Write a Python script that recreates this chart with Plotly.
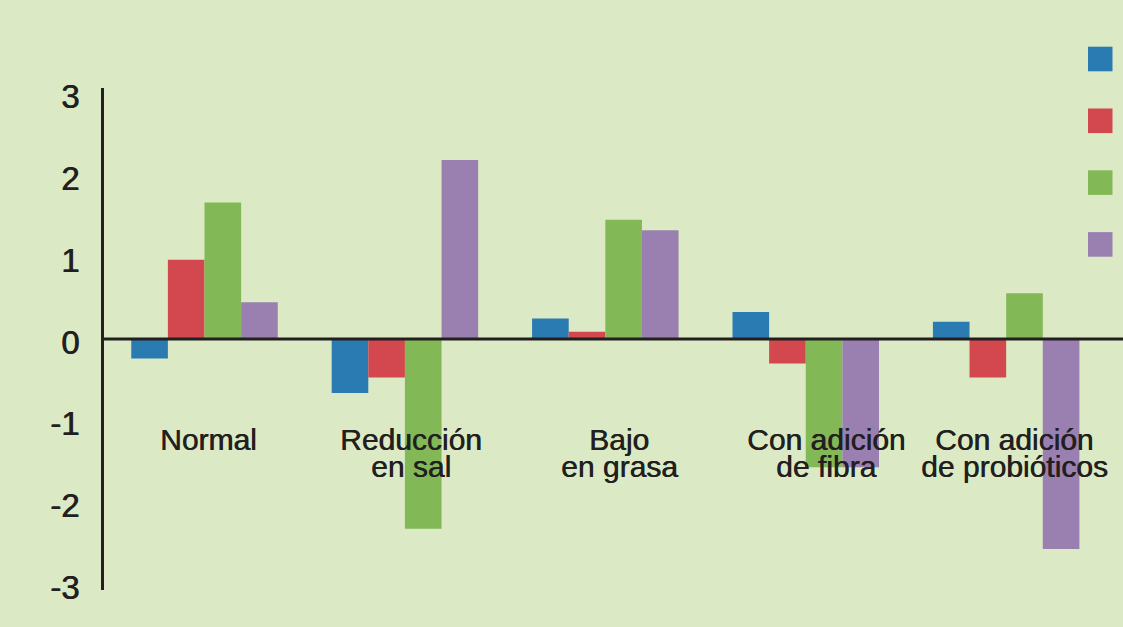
import plotly.graph_objects as go

# Categories and series values
categories = ["Normal", "Reducción en sal", "Bajo en grasa", "Con adición de fibra", "Con adición de probióticos"]
serie_1 = [-0.24, -0.66, 0.25, 0.33, 0.21]
serie_2 = [0.97, -0.47, 0.09, -0.30, -0.47]
serie_3 = [1.67, -2.32, 1.46, -1.57, 0.56]
serie_4 = [0.45, 2.19, 1.33, -1.57, -2.57]
series_names = ["Serie 1", "Serie 2", "Serie 3", "Serie 4"]
tick_values = [-3, -2, -1, 0, 1, 2, 3]

# Category labels, split over two lines
label_lines = [
    ("Normal", ""),
    ("Reducción", "en sal"),
    ("Bajo", "en grasa"),
    ("Con adición", "de fibra"),
    ("Con adición", "de probióticos"),
]

# Styling
colors = ["#2a7bb2", "#d3474f", "#82b856", "#9a80b1"]
bg = "#dbeac4"
ink = "#231f20"
font_family = "Liberation Sans, Arial, sans-serif"
heavy = "0.6px 0 0 #231f20"

W, H = 1123, 627
ML, MR, MT, MB = 104, 0, 88, 37
plot_w = W - ML - MR
plot_h = H - MT - MB

label_shift = [0.02, 0.03, 0.07, 0.10, 0.04]


def py_to_paper(py):
    return (H - MB - py) / plot_h


def px_to_paper(px):
    return (px - ML) / plot_w


fig = go.Figure()
for name, vals, col in zip(series_names, [serie_1, serie_2, serie_3, serie_4], colors):
    fig.add_trace(go.Bar(
        x=categories, y=vals, name=name,
        marker=dict(color=col, line=dict(width=0)),
        showlegend=False,
    ))

shapes = []
# zero line above the bars
shapes.append(dict(type="line", xref="paper", yref="y", x0=0, x1=1, y0=0, y1=0,
                   line=dict(color=ink, width=3), layer="above"))
# legend swatches
for i, col in enumerate(colors):
    top = 46.7 + i * 61.8
    shapes.append(dict(type="rect", xref="paper", yref="paper",
                       x0=px_to_paper(1088), x1=px_to_paper(1112.5),
                       y0=py_to_paper(top + 24.6), y1=py_to_paper(top),
                       fillcolor=col, line=dict(width=0), layer="above"))

label_font = dict(size=30, color=ink, family=font_family, shadow=heavy)
annotations = []
for i, (l1, l2) in enumerate(label_lines):
    xi = i + label_shift[i]
    annotations.append(dict(x=xi, xref="x", y=py_to_paper(439), yref="paper",
                            text=l1, showarrow=False, xanchor="center", yanchor="middle",
                            font=label_font))
    if l2:
        annotations.append(dict(x=xi, xref="x", y=py_to_paper(466.5), yref="paper",
                                text=l2, showarrow=False, xanchor="center", yanchor="middle",
                                font=label_font))

fig.update_layout(
    width=W, height=H,
    margin=dict(l=ML, r=MR, t=MT, b=MB, pad=0),
    paper_bgcolor=bg, plot_bgcolor=bg,
    barmode="group", bargap=0.269, bargroupgap=0,
    font=dict(family=font_family, color=ink, size=29),
    shapes=shapes, annotations=annotations,
    xaxis=dict(type="category", range=[-0.5015, 4.583], showticklabels=False,
               showgrid=False, zeroline=False, showline=False, ticks=""),
    yaxis=dict(range=[-3.07, 3.07], tickvals=tick_values, ticktext=[str(v) for v in tick_values],
               showgrid=False, zeroline=False, showline=True, linecolor=ink, linewidth=3,
               ticks="", ticklabelstandoff=15, ticklabelshift=3,
               tickfont=dict(size=33, color=ink, family=font_family, shadow=heavy)),
)

fig.write_html("out.html")
